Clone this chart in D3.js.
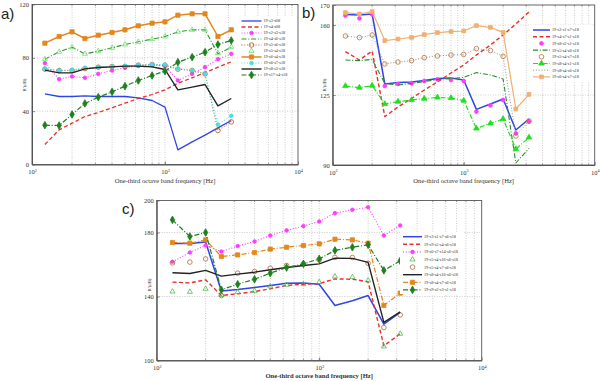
<!DOCTYPE html>
<html><head><meta charset="utf-8">
<script src="https://cdn.jsdelivr.net/npm/d3@7"></script>
<style>body{margin:0;background:#fff}svg{display:block}</style>
</head><body>
<svg id="c" width="600" height="381"></svg>
<script>
// ---------- DATA ----------
const freqs = [125,160,200,250,315,400,500,630,800,1000,1250,1600,2000,2500,3150];
const xTickValues = [100,1000,10000];

// panel a
const aNames = ["19-s3-s08","19-s4-s08","19-s2-s3-s18","19-s4-s6-s18","19-s5-s6-s18","19-s5-s4-s18","19-s6-s4-s18","19-s6-s7-s18","19-s8-s3-s18","19-s17-s4-s18"];
const a1 = [53,51,51,51.5,51,51,51,50,48,43,11,17,22,27.5,33];
const a2 = [15,26,31,36,39,42.5,46,49.5,52.5,56,61,65,69,73,77];
const a3 = [76,64,66,65,68,70.5,72.5,74,74.5,74,63,68,73,79,83];
const a4 = [79,84.5,88,83,85,87.5,90,92,94,96,99.5,101,101,83,88];
const a5 = [71.5,70.5,70.5,72,73,73.5,73.5,74.5,75,74.5,71.5,70.5,68,25.5,32];
const a6 = [79,84.5,88,83,85,87.5,90,92,94,96,99.5,101,101,83.5,88];
const a7 = [91,96,99.5,94.5,97,99,101,104,106,107,112,113,113,96,101];
const a8 = [72,70.5,71,72.5,73,73.5,74,74.5,75,75,72,70.5,68,30,36.5];
const a9 = [70.75,68.75,68.75,71.75,72.75,73.25,73.75,73.75,73.25,71.25,56,58,60,44,49.5];
const a10 = [29.5,29.25,37.5,45.75,50.5,54.5,58.75,63,66.75,70,76.75,80.5,84.25,90,93];
const aYTicks = [0,40,80,120];

// panel b
const bNames = ["19-s2-s1-s7-s18","19-s4-s7-s1-s18","19-s8-s2-s1-s18","19-s5-s4-s6-s18","19-s5-s4-s7-s18","19-s8-s4-s1-s18","19-s8-s4-s6-s18","19-s6-s4-s7-s18"];
const b1 = [165.3,165,165.5,130.5,131.2,131.5,132.2,133.3,133.5,132.5,117.8,120.5,123,107.5,113];
const b2 = [146.7,142.5,147,114.2,119,123.3,127.5,131.5,136,140,145,150,155,160.5,166.5];
const b3 = [164.7,163.3,165.3,129.5,130.5,130.8,132,132.8,132.5,132,116.7,119.8,122.5,105.8,111.7];
const b4 = [142.5,142.2,142.8,130.8,130,130.8,131.7,132.8,133.2,133.8,136.2,135,133,91,98.3];
const b5 = [154.5,153.7,155,140.5,141.5,142.2,143.7,144.5,145,145.3,148.2,147.2,144.3,104.5,112];
const b6 = [129.5,128.7,129.7,120.5,121.7,122.5,123.2,123.8,123.5,122.2,108.3,110.8,113,98,103.8];
const b7 = [154.5,153.7,155,140.5,141.5,142.2,143.7,144.5,145,145.3,148.2,147.2,144.3,104.5,112];
const b8 = [166.2,165.5,166.7,152.2,153,153.8,155.2,156.2,156.7,157,159.7,158.8,156.3,118,125.3];
const bYTicks = [90,125,160,170];

// panel c
const cNames = ["19-s3-s1-s7-s6-s18","19-s9-s5-s4-s6-s18","19-s6-s7-s14-s6-s18","19-s5-s4-s16-s6-s18","19-s5-s4-s7-s6-s18","19-s8-s4-s16-s6-s18","19-s8-s4-s7-s6-s18","19-s9-s2-s3-s1-s18"];
const c1 = [173.1,173.1,174,143.5,144.4,145.6,146.9,148.3,148.5,147.7,134.4,137.3,140.6,122.7,130];
const c2 = [149,148.5,150.4,140.6,141.7,143.1,144.8,146.9,147.7,148.1,151,150.8,149.2,109.2,116.7];
const c3 = [161.7,167.5,171.9,168.1,171.5,174.4,178.1,181.3,184,186.9,192.1,194.2,195.8,178.1,184.4];
const c4 = [143.1,142.9,144.8,141,142.7,143.5,146.3,147.3,147.7,149,152.5,152.1,150,108.8,116.7];
const c5 = [161,161.5,163.5,140.6,154.6,155.6,157.7,159.4,160.4,162.9,164.4,164.4,160.8,120.6,128.5];
const c6 = [154.8,154.4,156.3,152.7,154,155.2,156.7,158.1,159.4,160.4,164,163.8,161.3,123.8,130.4];
const c7 = [173.75,173.3,175.4,165,166,167.5,169.6,170.8,171.9,172.9,175.8,175.4,173.3,134.4,142.1];
const c8 = [187.9,177.5,180,144.2,147.7,150.8,154.6,158.1,160.4,163.5,168.8,170.8,172.3,156.3,162.3];
const cYTicks = [100,140,180,200];

// ---------- STYLES ----------
const DASH = "4,2.5", DOT = "1,1.8", DASHDOT = "5,1.8,1,1.8";
const st = (color, dash, width, marker, mfill, msize) => ({color, dash, width, marker, mfill, msize});

const panels = [
  { left:32, right:298, top:4.5, bottom:164.5, y:[0,120], yt:aYTicks, letter:"a)", lx:1, ly:19,
    ylx:26, yly:85, xly:183, bold:false, leg:{x:241.5,y:21,dy:6,len:20,bx:238,by:17,bw:58,bh:62},
    series:[
      [aNames[0],a1,st("#2f45e6",null,1.3,null)],
      [aNames[1],a2,st("#e8302c",DASH,1.3,null)],
      [aNames[2],a3,st("#ff3cff",DOT,1.1,"circle","#ff3cff",3.6)],
      [aNames[3],a4,st("#2d9a2d",DASHDOT,1.1,null)],
      [aNames[4],a5,st("#b45a26",DOT,1.0,"circle","none",4.6)],
      [aNames[5],a6,st("#70e070",null,0,"triangle","none",5)],
      [aNames[6],a7,st("#e3861c",null,1.5,"square","#e3861c",4.2)],
      [aNames[7],a8,st("#3fe0e6",DOT,1.0,"circle","#3fe0e6",3.6)],
      [aNames[8],a9,st("#222222",null,1.4,null)],
      [aNames[9],a10,st("#1f7f1f",DASHDOT,1.2,"diamond","#1f7f1f",5.5)]
    ]},
  { left:332.7, right:594.7, top:5, bottom:165, y:[90,170], yt:bYTicks, letter:"b)", lx:302, ly:18,
    ylx:325.5, yly:85, xly:183, bold:false, leg:{x:533,y:30,dy:6.7,len:17,bx:530,by:25,bw:62,bh:56},
    series:[
      [bNames[0],b1,st("#2f45e6",null,1.5,null)],
      [bNames[1],b2,st("#e8302c",DASH,1.4,null)],
      [bNames[2],b3,st("#ff3cff",null,0,"circle","#ff3cff",3.8)],
      [bNames[3],b4,st("#2d8a2d",DASHDOT,1.1,null)],
      [bNames[4],b5,st("#b4703a",null,0,"circle","none",4.6)],
      [bNames[5],b6,st("#22dd22",DASHDOT,1.2,"triangle","#22dd22",5.5)],
      [bNames[6],b7,st("#8a8a8a",DOT,0.9,null)],
      [bNames[7],b8,st("#f0b070",null,1.2,"square","#f0b070",3.8)]
    ]},
  { left:156.7, right:481.7, top:200.5, bottom:360.5, y:[100,200], yt:cYTicks, letter:"c)", lx:122, ly:214,
    ylx:151, yly:285, xly:377.5, bold:true, leg:{x:403,y:236.7,dy:7.6,len:19,bx:400,by:232,bw:64,bh:62},
    series:[
      [cNames[0],c1,st("#2f45e6",null,1.5,null)],
      [cNames[1],c2,st("#e8302c",DASH,1.4,null)],
      [cNames[2],c3,st("#ff3cff",DOT,1.1,"circle","#ff3cff",3.6)],
      [cNames[3],c4,st("#4cbb4c",null,0,"triangle","none",5)],
      [cNames[4],c5,st("#b46a3a",null,0,"circle","none",4.6)],
      [cNames[5],c6,st("#222222",null,1.4,null)],
      [cNames[6],c7,st("#e3861c",DASHDOT,1.2,"square","#e3861c",4.2)],
      [cNames[7],c8,st("#1f7f1f",DASHDOT,1.2,"diamond","#1f7f1f",5.5)]
    ]}
];

const svg = d3.select("#c");
const symMap = {circle:d3.symbolCircle, square:d3.symbolSquare, triangle:d3.symbolTriangle, diamond:d3.symbolDiamond};
const SERIF = "'Liberation Serif','Times New Roman',serif";

function marker(g, type, x, y, s) {
  const sz = type==="diamond" ? s*s*0.55 : type==="triangle" ? s*s*0.45 : type==="square" ? s*s : Math.PI*s*s/4;
  return g.append("path").attr("d", d3.symbol().type(symMap[type]).size(sz)())
    .attr("transform", `translate(${x},${y})`);
}

panels.forEach(p => {
  const x = d3.scaleLog().domain([100,10000]).range([p.left,p.right]);
  const y = d3.scaleLinear().domain(p.y).range([p.bottom,p.top]);
  const g = svg.append("g");

  // grid
  const minor = [];
  for (let d=100; d<10000; d*=10) for (let k=1;k<10;k++) minor.push(d*k);
  minor.push(10000);
  g.append("g").selectAll("line").data(minor.filter(v=>v>100&&v<10000)).join("line")
    .attr("x1",d=>x(d)).attr("x2",d=>x(d)).attr("y1",p.top).attr("y2",p.bottom)
    .attr("stroke","#9a9a9a").attr("stroke-width",0.5).attr("stroke-dasharray","1,1.5");
  g.append("g").selectAll("line").data(p.yt.filter(v=>v>p.y[0]&&v<p.y[1])).join("line")
    .attr("x1",p.left).attr("x2",p.right).attr("y1",d=>y(d)).attr("y2",d=>y(d))
    .attr("stroke","#9a9a9a").attr("stroke-width",0.5).attr("stroke-dasharray","1,1.5");

  // axes
  const xa = g.append("g").attr("transform",`translate(0,${p.bottom})`)
    .call(d3.axisBottom(x).tickValues(xTickValues).tickSizeInner(-3).tickSizeOuter(0).tickPadding(5));
  xa.selectAll(".tick text").text(null).attr("font-family",SERIF).attr("font-size",6.5).attr("fill","#333")
    .each(function(d){
      const t = d3.select(this);
      t.append("tspan").text("10");
      t.append("tspan").attr("dy",-2.5).attr("font-size",4.2).text(Math.round(Math.log10(d)));
    });
  // minor ticks bottom/top
  g.append("g").selectAll("line").data(minor.filter(v=>v>100&&v<10000)).join("line")
    .attr("x1",d=>x(d)).attr("x2",d=>x(d)).attr("y1",p.bottom).attr("y2",p.bottom-1.6).attr("stroke","#444").attr("stroke-width",0.5);
  g.append("g").selectAll("line").data(minor.filter(v=>v>100&&v<10000)).join("line")
    .attr("x1",d=>x(d)).attr("x2",d=>x(d)).attr("y1",p.top).attr("y2",p.top+1.6).attr("stroke","#444").attr("stroke-width",0.5);
  const ya = g.append("g").attr("transform",`translate(${p.left},0)`)
    .call(d3.axisLeft(y).tickValues(p.yt).tickSizeInner(-3).tickSizeOuter(0).tickPadding(3));
  ya.selectAll(".tick text").attr("font-family",SERIF).attr("font-size",6.5).attr("fill","#333");
  g.selectAll(".domain").attr("stroke","#555");
  g.selectAll(".tick line").attr("stroke","#444").attr("stroke-width",0.6);
  // box
  g.append("rect").attr("x",p.left).attr("y",p.top).attr("width",p.right-p.left).attr("height",p.bottom-p.top)
    .attr("fill","none").attr("stroke","#555").attr("stroke-width",0.9);

  // labels
  g.append("text").attr("x",p.lx).attr("y",p.ly).attr("font-family","'Liberation Sans',Arial,sans-serif")
    .attr("font-size",15).attr("fill","#222").text(p.letter);
  g.append("text").attr("transform",`translate(${p.ylx},${p.yly}) rotate(-90)`).attr("text-anchor","middle")
    .attr("font-family",SERIF).attr("font-size",4.8).attr("fill","#333").text("R'(dB)");
  g.append("text").attr("x",(p.left+p.right)/2).attr("y",p.xly).attr("text-anchor","middle")
    .attr("font-family",SERIF).attr("font-size",6.6).attr("font-weight",p.bold?"bold":"normal")
    .attr("fill","#333").text("One-third octave band frequency [Hz]");

  // series
  const line = d3.line().x((d,i)=>x(freqs[i])).y(d=>y(d));
  p.series.forEach(([name, vals, s]) => {
    if (s.width>0) g.append("path").datum(vals).attr("d",line).attr("fill","none")
      .attr("stroke",s.color).attr("stroke-width",s.width).attr("stroke-dasharray",s.dash)
      .attr("stroke-linejoin","round");
    if (s.marker) vals.forEach((v,i)=>{
      marker(g, s.marker, x(freqs[i]), y(v), s.msize).attr("fill",s.mfill==="none"?"none":s.mfill)
        .attr("stroke",s.color).attr("stroke-width",0.8);
    });
  });

  // legend
  const L = p.leg;
  const lg = g.append("g");
  lg.append("rect").attr("x",L.bx).attr("y",L.by).attr("width",L.bw).attr("height",L.bh).attr("fill","#fff");
  p.series.forEach(([name, vals, s], i) => {
    const yy = L.y + i*L.dy;
    if (s.width>0) lg.append("line").attr("x1",L.x).attr("x2",L.x+L.len).attr("y1",yy).attr("y2",yy)
      .attr("stroke",s.color).attr("stroke-width",s.width).attr("stroke-dasharray",s.dash);
    if (s.marker) marker(lg, s.marker, L.x+L.len/2, yy, s.msize).attr("fill",s.mfill==="none"?"none":s.mfill)
      .attr("stroke",s.color).attr("stroke-width",0.8);
    lg.append("text").attr("x",L.x+L.len+2).attr("y",yy+1.4).attr("font-family",SERIF)
      .attr("font-size",4.2).attr("fill","#333").text(name);
  });
});
</script>
</body></html>
